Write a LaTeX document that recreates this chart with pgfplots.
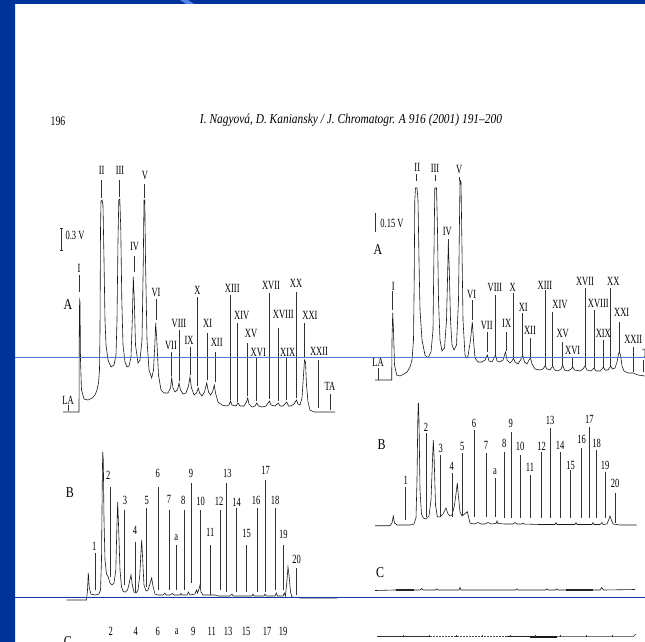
\documentclass[border=0pt]{standalone}
\usepackage{fontspec}
\setmainfont{Liberation Serif}
\usepackage{graphicx}
\usepackage{pgfplots}
\pgfplotsset{compat=1.18}
\definecolor{frameblue}{RGB}{0,51,153}
\definecolor{lineblue}{RGB}{80,120,210}
\definecolor{darkline}{RGB}{20,55,160}
\definecolor{streak}{RGB}{90,130,230}
\newcommand{\lab}[1]{\scalebox{0.68}[1]{\fontsize{12.5}{12.5}\selectfont #1}}
\newcommand{\panel}[1]{\scalebox{0.8}[1]{\fontsize{15}{15}\selectfont #1}}
\newcommand{\lbl}[3]{\node[inner sep=0pt] at (axis cs:#1,#2) {\lab{#3}};}
\begin{document}
\begin{tikzpicture}
\begin{axis}[width=645pt,height=642pt,scale only axis,xmin=0,xmax=645,ymin=0,ymax=642,
  y dir=reverse,hide axis,clip=false]
% frame
\addplot[fill=frameblue,draw=none] coordinates {(0,0) (645,0) (645,4) (15,4) (15,642) (0,642)} -- cycle;
\addplot[fill=streak,draw=none] coordinates {(180,0) (188,0) (194,4) (186,4)} -- cycle;
% header
\node[inner sep=0pt] at (axis cs:58,121) {\scalebox{0.75}[1]{\fontsize{13}{13}\selectfont 196}};
\node[inner sep=0pt] at (axis cs:351,120) {\resizebox{302pt}{9.5pt}{\itshape I. Nagyová, D. Kaniansky / J. Chromatogr. A 916 (2001) 191–200}};
% ---------- left A trace
\addplot[black!90,line width=0.6pt] coordinates {(63,412) (79,412) (79.3,330) (79.6,300) (80,302) (80.5,360) (81.5,390) (84,399) (88,400) (92,398) (95,395) (97,390) (98.5,383) (99.5,370) (100,330) (100.5,230) (101,201) (102,200) (103,205) (104,260) (105,320) (106,345) (108,360) (111,367) (114,365) (116,355) (117,320) (118,240) (118.8,200) (119.8,199) (120.8,230) (121.8,300) (123,345) (125,362) (127,367) (129,366) (131,357) (132.3,320) (133.3,277) (134.3,300) (135.5,345) (138,363) (140,360) (142,340) (143.3,260) (144,200) (144.8,200) (145.5,260) (147,340) (149,370) (151.7,378) (153.5,370) (154.8,345) (155.7,323) (156.8,340) (158.5,375) (161,390) (164,393) (168,393) (170.5,388) (171.7,378) (173,388) (175,392) (177.5,390) (179,383) (180.5,390) (183,394) (186,393) (188.5,386) (190,377) (191.5,388) (194,395) (196.5,393) (198.3,388) (199.5,393) (202,396) (204.5,392) (206.7,383) (208.5,392) (210.5,395) (212.5,392) (214.3,385) (215.5,393) (218,402) (222,405) (226,406) (229,405) (230.5,401) (232,405) (236,406) (238,403) (240,406) (244,406) (246.5,402) (247.7,398) (249,404) (252,407) (255,406) (256.7,403) (258.5,406) (262,407) (266,406) (268,403) (269.5,401) (271,405) (275,406) (278.3,403) (280,406) (283,406) (286.7,402) (288.5,406) (291,406) (294,404) (296.5,400) (298,404) (300,405) (302,398) (303.5,375) (304.5,360) (305.5,362) (306.5,385) (308,402) (310,410) (314,412) (320,412) (335,412)};
% left A marker lines
\addplot[black!80,line width=0.45pt,unbounded coords=jump] table {
x y
79.3 275
79.3 292
nan nan
101.5 180
101.5 198
nan nan
119.5 180
119.5 197
nan nan
134 256
134 272
nan nan
144.5 184
144.5 198
nan nan
156 299
156 320
nan nan
171.7 352
171.7 376
nan nan
179 330
179 381
nan nan
190 347
190 375
nan nan
197.7 297
197.7 386
nan nan
207.7 333
207.7 380
nan nan
215.7 352
215.7 382
nan nan
230 295
230 400
nan nan
237.7 323
237.7 402
nan nan
247.7 343
247.7 396
nan nan
256.7 357
256.7 401
nan nan
269 293
269 399
nan nan
278.3 328
278.3 401
nan nan
286.7 358
286.7 400
nan nan
296.7 292
296.7 398
nan nan
304.3 323
304.3 358
nan nan
318.3 360
318.3 408
nan nan
330 394
330 410
nan nan
68 405
68 411
nan nan
61.7 228
61.7 250
nan nan
60 228
63.4 228
nan nan
60 250
63.4 250
};
\lbl{79}{268}{I}
\lbl{101.7}{170}{II}
\lbl{120}{170}{III}
\lbl{134.5}{247}{IV}
\lbl{145}{176}{V}
\lbl{156}{292}{VI}
\lbl{171}{345}{VII}
\lbl{179}{323}{VIII}
\lbl{189}{340}{IX}
\lbl{197.5}{290}{X}
\lbl{207.7}{323}{XI}
\lbl{216.7}{342}{XII}
\lbl{232.3}{288}{XIII}
\lbl{241.7}{315}{XIV}
\lbl{251}{333}{XV}
\lbl{258.3}{352}{XVI}
\lbl{271}{285}{XVII}
\lbl{283.3}{314}{XVIII}
\lbl{287.7}{352}{XIX}
\lbl{296}{283}{XX}
\lbl{310}{315}{XXI}
\lbl{319}{351}{XXII}
\lbl{330}{386}{TA}
\lbl{68}{400}{LA}
\lbl{75}{235}{0.3 V}
\node[inner sep=0pt] at (axis cs:68,305) {\panel{A}};
% ---------- right A trace
\addplot[black!90,line width=0.6pt] coordinates {(375,380) (391.7,380) (392,340) (392.7,313) (393.5,330) (394.5,365) (396.7,375) (400,376) (404,374) (407,372) (410,367) (412,360) (413.5,340) (414.2,280) (414.8,200) (415.5,188) (417,188) (418,200) (419,260) (420,310) (422,340) (425,355) (428,358) (431,352) (433,330) (434,250) (434.8,188) (436.5,188) (437.5,230) (438.5,300) (440,340) (442,351) (444.5,348) (446.5,320) (447.5,280) (448.3,243) (449.3,270) (450.5,320) (452,345) (454,350) (456.5,345) (458.5,300) (459.5,220) (460,180) (461,182) (462,250) (463,320) (465,355) (466.5,358) (468,356) (470.5,340) (472.3,322) (473.5,340) (475,358) (478,362) (482,362) (485,360) (487.3,355) (489,361) (492,362) (494,358) (495.5,355) (497,361) (500,362) (503,360) (505.5,352) (507,360) (510,363) (512,361) (513.5,358) (515,362) (518,364) (520.5,360) (522.7,355) (524.5,362) (527,364) (529,360) (530.5,358) (532,364) (535,369) (540,370) (543,369) (545,366) (547,369) (550,370) (552.7,366) (554.5,370) (558,371) (561,369) (562.7,365) (564.5,370) (568,371) (571,369) (572.7,367) (574.5,370) (580,371) (583,369) (585,366) (587,370) (591,371) (594,368) (596,371) (600,371) (602,369) (603.3,367) (605,370) (608,370) (610.7,366) (612.5,369) (615,368) (617,362) (618.5,354) (619.3,352) (620.5,355) (622,366) (624,371) (628,373) (633,373) (638,375) (645,376)};
\addplot[black!80,line width=0.45pt,unbounded coords=jump] table {
x y
392.7 291
392.7 310
nan nan
416.5 174
416.5 181
nan nan
435 175
435 181
nan nan
448.3 239
448.3 248
nan nan
459.7 177
459.7 181
nan nan
472 300
472 320
nan nan
487.3 332
487.3 352
nan nan
495 295
495 355
nan nan
506 332
506 351
nan nan
513.3 293
513.3 358
nan nan
522.7 313
522.7 355
nan nan
530 338
530 358
nan nan
545 290
545 366
nan nan
552.7 312
552.7 367
nan nan
562.7 342
562.7 365
nan nan
572.7 357
572.7 367
nan nan
585 288
585 366
nan nan
594.3 310
594.3 368
nan nan
603.3 340
603.3 367
nan nan
610.7 288
610.7 366
nan nan
619.3 322
619.3 352
nan nan
633.3 347
633.3 372
nan nan
643 360
643 372
nan nan
378 368
378 380
nan nan
418 403
418 410
nan nan
375 213
375 232
};
\lbl{393.3}{286}{I}
\lbl{417.3}{167}{II}
\lbl{435}{168}{III}
\lbl{447.3}{231}{IV}
\lbl{459.3}{170}{V}
\lbl{471.7}{294}{VI}
\lbl{486.7}{325}{VII}
\lbl{495}{287}{VIII}
\lbl{506.7}{323}{IX}
\lbl{512.7}{287}{X}
\lbl{523.3}{307}{XI}
\lbl{530}{330}{XII}
\lbl{545}{285}{XIII}
\lbl{560}{304}{XIV}
\lbl{562.7}{333}{XV}
\lbl{572.7}{350}{XVI}
\lbl{585}{281}{XVII}
\lbl{598.3}{303}{XVIII}
\lbl{603.3}{333}{XIX}
\lbl{613.3}{281}{XX}
\lbl{621.7}{312}{XXI}
\lbl{633.3}{339}{XXII}
\lbl{648}{353}{TA}
\lbl{378}{362}{LA}
\lbl{392}{223}{0.15 V}
\node[inner sep=0pt] at (axis cs:378,250) {\panel{A}};
% ---------- left B trace
\addplot[black!90,line width=0.6pt] coordinates {(66.7,600) (86.5,600) (87.5,590) (88.3,573) (89.3,588) (91,594) (95,595) (99,594) (100.5,590) (101.5,560) (102.3,480) (102.7,452) (103.3,460) (104,520) (105,560) (106.5,574) (108.3,577) (110,583) (112,585) (114,583) (115.8,570) (116.8,530) (117.7,502) (118.7,530) (120,570) (121.5,587) (123.3,591.7) (125.5,592) (127.5,590) (129.5,582) (131,575) (132.3,585) (134,592) (136,593) (138,590) (139.8,575) (140.8,555) (141.7,540) (142.7,560) (144,585) (146,591) (148,590) (150.2,583) (151.7,578) (153,586) (155,594) (158,595) (163,595) (165,593) (166,595) (170,595) (172.5,593.5) (174,595) (180,595) (181,593.5) (182,595) (187,595) (188.5,592) (190,595) (195,594) (196.5,590) (197.5,593) (199,589) (200,585) (201,592) (203,595) (215,595) (218,596) (230,596) (232,594) (233,596) (240,596) (252,596) (253,594) (254,596) (264,596) (265,594) (266,596) (275,596) (276.3,593) (277.5,596) (283,596) (284.3,593) (285.5,596) (287,580) (288,567) (289,575) (290.5,592) (292,597) (300,598) (337,598)};
\addplot[black!80,line width=0.45pt,unbounded coords=jump] table {
x y
95 553
95 590
nan nan
110.7 487
110.7 577
nan nan
124 510
124 585
nan nan
135.7 542
135.7 592
nan nan
146.7 508
146.7 587
nan nan
158.3 487
158.3 590
nan nan
169 510
169 590
nan nan
176.3 545
176.3 590
nan nan
184.3 510
184.3 590
nan nan
191.7 483
191.7 583
nan nan
200.7 510
200.7 587
nan nan
210.3 545
210.3 595
nan nan
220.7 510
220.7 590
nan nan
226.7 483
226.7 592
nan nan
236 508
236 592
nan nan
246 545
246 592
nan nan
257.3 508
257.3 592
nan nan
265.7 480
265.7 592
nan nan
275 508
275 590
nan nan
283.3 545
283.3 590
nan nan
296.3 568
296.3 595
};
\lbl{94.3}{546}{1}
\lbl{108.3}{475}{2}
\lbl{125}{500}{3}
\lbl{135}{530}{4}
\lbl{146.7}{500}{5}
\lbl{157.7}{473}{6}
\lbl{169}{499}{7}
\lbl{176.3}{538}{a}
\lbl{183.3}{500}{8}
\lbl{191}{473}{9}
\lbl{200.7}{501}{10}
\lbl{210.3}{532}{11}
\lbl{219}{501}{12}
\lbl{227.3}{473}{13}
\lbl{236.7}{502}{14}
\lbl{246.7}{533}{15}
\lbl{256}{500}{16}
\lbl{265.7}{470}{17}
\lbl{275}{500}{18}
\lbl{283.3}{534}{19}
\lbl{296.7}{559}{20}
\node[inner sep=0pt] at (axis cs:70,493) {\panel{B}};
% left C labels
\lbl{110.7}{631}{2}
\lbl{135.7}{631}{4}
\lbl{157.7}{631}{6}
\lbl{176.7}{632}{a}
\lbl{193.3}{631}{9}
\lbl{211.7}{631}{11}
\lbl{228}{631}{13}
\lbl{246}{631}{15}
\lbl{267}{631}{17}
\lbl{283}{631}{19}
\node[inner sep=0pt] at (axis cs:68,642) {\panel{C}};
% ---------- right B trace
\addplot[black!90,line width=0.6pt] coordinates {(375,525.7) (390,525.7) (392,523) (393.3,516) (394.5,523) (397,525) (410,525) (414,524) (416,518) (417,480) (417.8,420) (418.3,403) (419,420) (420,490) (421.5,514) (423.3,518) (426,519) (429,516) (431,500) (432.5,460) (433.3,440) (434.2,460) (435.5,505) (437.3,516.7) (440,517) (443,514) (446,508) (448,514) (450,516) (452,515) (454.5,505) (456.5,490) (457.3,483) (458.3,495) (460,512) (462,516) (464.5,514) (467.3,511.7) (468.8,518) (470,523) (474,524) (478,522.5) (481,524) (485,524) (488,522.5) (491,524) (496,523.5) (497,521) (498,523.5) (505,524) (513,524) (515,522.5) (517,524) (522,524) (523,523) (524,524) (540,524.5) (555,524.5) (556,522.5) (557,524.5) (575,524.5) (576,522.5) (577,524.5) (592,524.5) (593,522.5) (594,524.5) (600,524.5) (602,522.5) (603,524.5) (607,524) (609,519) (610,516) (611,519) (613,524) (620,525) (636.7,525)};
\addplot[black!80,line width=0.45pt,unbounded coords=jump] table {
x y
405.7 487
405.7 520
nan nan
426.7 433
426.7 517
nan nan
440.7 455
440.7 517
nan nan
452.3 473
452.3 517
nan nan
462.3 453
462.3 515
nan nan
474.3 430
474.3 517
nan nan
486 453
486 517
nan nan
495 478
495 517
nan nan
504.3 452
504.3 518
nan nan
511.7 432
511.7 518
nan nan
520 455
520 518
nan nan
530 475
530 518
nan nan
541.7 452
541.7 518
nan nan
550 428
550 518
nan nan
560.7 452
560.7 518
nan nan
570.7 470
570.7 518
nan nan
581.7 448
581.7 518
nan nan
589.3 427
589.3 518
nan nan
596.7 450
596.7 518
nan nan
605 472
605 518
nan nan
615 493
615 523
};
\lbl{405.7}{480}{1}
\lbl{426}{427}{2}
\lbl{440.7}{448}{3}
\lbl{451.7}{466}{4}
\lbl{462.3}{446}{5}
\lbl{474}{423}{6}
\lbl{486}{445}{7}
\lbl{495}{472}{a}
\lbl{504.3}{443}{8}
\lbl{510.7}{423}{9}
\lbl{520}{446}{10}
\lbl{530}{467}{11}
\lbl{541.7}{446}{12}
\lbl{550}{420}{13}
\lbl{560}{445}{14}
\lbl{570.7}{465}{15}
\lbl{581.7}{439}{16}
\lbl{589.3}{419}{17}
\lbl{596.7}{443}{18}
\lbl{605}{465}{19}
\lbl{615}{483}{20}
\node[inner sep=0pt] at (axis cs:381.7,445) {\panel{B}};
% ---------- right C trace
\addplot[black!90,line width=0.6pt] coordinates {(375,590.5) (395,590) (420,590) (421.7,588.5) (423,590) (435.5,590) (436.7,589) (438,590) (459,590) (460,587.5) (461,590) (515.5,590) (516.7,588.8) (518,590) (545.5,590) (546.7,589) (548,590) (555.5,590) (556.7,589) (558,590) (600,590) (601.7,587.5) (603.5,590) (635,589.5)};
\addplot[black!85,line width=1.1pt] coordinates {(396,590) (414,590)};
\addplot[black!85,line width=1.1pt] coordinates {(566,590) (593,590)};
\node[inner sep=0pt] at (axis cs:380,573) {\panel{C}};
% bottom trace (right)
\addplot[black!80,line width=0.55pt] coordinates {(377,636.7) (430,636.7)};
\addplot[black!70,line width=0.5pt,dash pattern=on 2pt off 1pt] coordinates {(430,636.7) (507,636.7)};
\addplot[black!85,line width=0.55pt] coordinates {(507,636.7) (530,636.7)};
\addplot[black!90,line width=1.1pt] coordinates {(530,637) (557,637)};
\addplot[black!80,line width=0.55pt] coordinates {(557,636.7) (633,636.7) (636,634)};
\addplot[black!80,line width=0.45pt,unbounded coords=jump] table {
x y
403.3 634.5
403.3 636.7
nan nan
429.3 634.5
429.3 636.7
nan nan
456.7 634.5
456.7 636.7
nan nan
482.7 634.5
482.7 636.7
nan nan
510 634.5
510 636.7
nan nan
535 634.5
535 636.7
nan nan
560 634.5
560 636.7
nan nan
586.7 634.5
586.7 636.7
nan nan
612.7 634.5
612.7 636.7
};
% overlay slide lines
\addplot[lineblue,line width=1pt] coordinates {(15,357) (645,357)};
\addplot[darkline,line width=1pt] coordinates {(15,597) (645,597)};
\end{axis}
\pgfresetboundingbox
\useasboundingbox (current axis.south west) rectangle (current axis.north east);
\end{tikzpicture}
\end{document}
